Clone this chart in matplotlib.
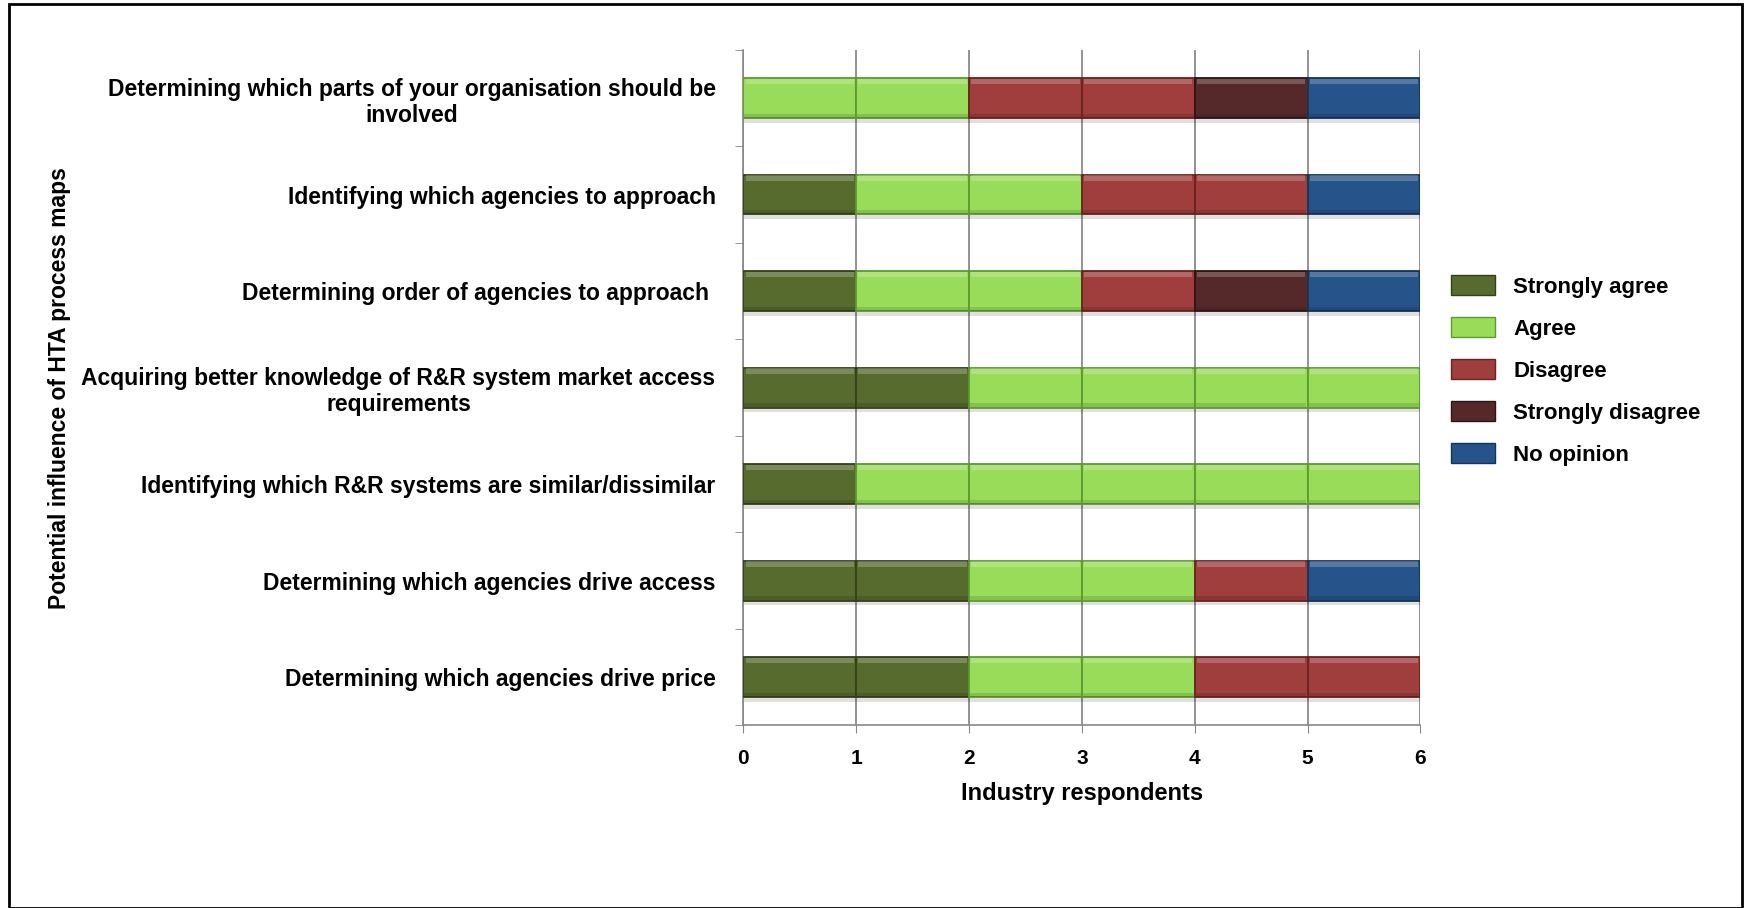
import matplotlib
matplotlib.use("Agg")
import matplotlib.pyplot as plt
from matplotlib.patches import Patch, Rectangle
from matplotlib import font_manager

# survey answers, one row per statement (top to bottom)
statements = [
    "Determining which parts of your organisation should be\ninvolved",
    "Identifying which agencies to approach",
    "Determining order of agencies to approach ",
    "Acquiring better knowledge of R&R system market access\nrequirements",
    "Identifying which R&R systems are similar/dissimilar",
    "Determining which agencies drive access",
    "Determining which agencies drive price",
]
responses = ["Strongly agree", "Agree", "Disagree", "Strongly disagree", "No opinion"]
strongly_agree = [0, 1, 1, 2, 1, 2, 2]
agree = [2, 2, 2, 4, 5, 2, 2]
disagree = [2, 2, 1, 0, 0, 1, 2]
strongly_disagree = [1, 0, 1, 0, 0, 0, 0]
no_opinion = [1, 1, 1, 0, 0, 1, 0]
x_ticks = [0, 1, 2, 3, 4, 5, 6]

colors = ["#586b2f", "#98dc5a", "#a03d3d", "#552929", "#26548a"]
edges = ["#34401a", "#5e9a30", "#6a2222", "#2e1414", "#163458"]

plt.rcParams['font.family'] = ['Liberation Sans', 'DejaVu Sans']
names = {f.name for f in font_manager.fontManager.ttflist}
narrow = 'Liberation Sans Narrow' if 'Liberation Sans Narrow' in names else 'Liberation Sans'

fig = plt.figure(figsize=(17.45, 9.08), dpi=100)
ax = fig.add_axes([0.426, 0.201, 0.388, 0.744])

series = [strongly_agree, agree, disagree, strongly_disagree, no_opinion]
h = 0.41
for i in range(len(statements)):
    left = 0
    for s, vals in enumerate(series):
        for k in range(vals[i]):
            # soft shadow under each block
            ax.barh(i + 0.05, 1, left=left, height=h, color='#000000', alpha=0.12,
                    linewidth=0, zorder=2)
            ax.barh(i, 1, left=left, height=h, color=colors[s], edgecolor=edges[s],
                    linewidth=1.3, zorder=3)
            # highlight along the top edge, darker band at the bottom
            ax.barh(i - h / 2 + h * 0.08, 0.96, left=left + 0.02, height=h * 0.14,
                    color='white', alpha=0.22, linewidth=0, zorder=4)
            ax.barh(i + h / 2 - h * 0.06, 0.98, left=left + 0.01, height=h * 0.1,
                    color='black', alpha=0.12, linewidth=0, zorder=4)
            left += 1

ax.set_xlim(0, 6)
ax.set_ylim(len(statements) - 0.5, -0.5)
ax.set_xticks(x_ticks)
ax.set_xticklabels([str(t) for t in x_ticks], fontsize=15, fontweight='bold',
                   family=[narrow, 'DejaVu Sans'])
ax.set_yticks(range(len(statements)))
ax.set_yticklabels(statements, fontsize=16.5, fontweight='bold', ha='right',
                   multialignment='center', linespacing=1.18)
ax.tick_params(axis='y', length=0, pad=20)
ax.set_yticks([i + 0.5 for i in range(-1, len(statements))], minor=True)
ax.tick_params(axis='y', which='minor', length=6, color='#888888', direction='out')
ax.tick_params(axis='x', length=6, color='#888888', pad=11)

ax.grid(axis='x', color='#808080', linewidth=1.2, zorder=0)
ax.set_axisbelow(True)
for sp in ['top', 'right']:
    ax.spines[sp].set_visible(False)
for sp in ['left', 'bottom']:
    ax.spines[sp].set_color('#888888')
    ax.spines[sp].set_linewidth(1.2)

ax.set_xlabel("Industry respondents", fontsize=17, fontweight='bold', labelpad=10,
              family=[narrow, 'DejaVu Sans'])
fig.text(0.034, 0.573, "Potential influence of HTA process maps", rotation=90,
         fontsize=16.5, fontweight='bold', ha='center', va='center')

handles = [Patch(facecolor=colors[s], edgecolor=edges[s]) for s in range(5)]
fig.legend(handles, responses, loc='center left', bbox_to_anchor=(0.82, 0.592),
           frameon=False, prop={'size': 16, 'weight': 'bold'}, handlelength=2.0,
           handleheight=1.0, labelspacing=0.88, handletextpad=0.8)

# outer frame
fig.patches.append(Rectangle((0.005, 0.0), 0.993, 0.996, transform=fig.transFigure,
                             fill=False, edgecolor='black', linewidth=2))

fig.savefig("out.png", dpi=100)
